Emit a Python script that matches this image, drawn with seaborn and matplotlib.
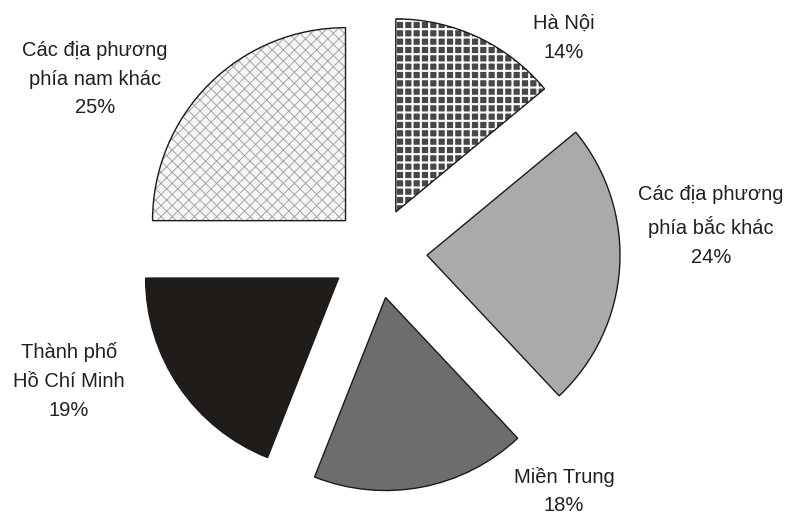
import matplotlib
matplotlib.use("Agg")
import matplotlib.pyplot as plt
import seaborn as sns

# Population share by region
regions = [
    "Hà Nội",
    "Các địa phương\nphía bắc khác",
    "Miền Trung",
    "Thành phố\nHồ Chí Minh",
    "Các địa phương\nphía nam khác",
]
shares = [14, 24, 18, 19, 25]

# Styling per slice
explode = [0.23, 0.26, 0.24, 0.24, 0.23]
fills = ["#474747", "#aaaaaa", "#6e6d6b", "#201c1a", "#f6f6f6"]
hatches = ["++", None, None, None, "xxx"]
hatch_colors = ["white", None, None, None, "#a6a6a6"]
hatch_widths = [1.5, None, None, None, 0.7]
label_xy = [(0.969, 1.110), (1.731, 0.135), (0.969, -1.238),
            (-1.596, -0.668), (-1.461, 0.896)]

sns.set_theme(style="white")
plt.rcParams["font.family"] = ["Liberation Sans", "DejaVu Sans"]

fig = plt.figure(figsize=(7.88, 5.17), dpi=100)
ax = fig.add_axes([0, 0, 1, 1])

wedges, _ = ax.pie(shares, explode=explode, startangle=90, counterclock=False,
                   radius=1, colors=fills, wedgeprops=dict(linewidth=0))
for w, h, hc, hw in zip(wedges, hatches, hatch_colors, hatch_widths):
    if h:
        w.set_hatch(h)
        w.set_edgecolor(hc)
        w.set_linewidth(0)
        if hasattr(w, "set_hatch_linewidth"):
            w.set_hatch_linewidth(hw)

# thin dark outlines on top of the fills
ax.pie(shares, explode=explode, startangle=90, counterclock=False, radius=1,
       wedgeprops=dict(fill=False, edgecolor="#1a1a1a", linewidth=1.0))

for name, v, (x, y) in zip(regions, shares, label_xy):
    ax.text(x, y, f"{name}\n{v}%", ha="center", va="center", fontsize=14.5,
            linespacing=1.65, color="#231f20")

ax.set_aspect("auto")
ax.set_xlim(-1.953, 2.130)
ax.set_ylim(-1.373, 1.306)
ax.axis("off")

fig.savefig("out.png", dpi=100, facecolor="white")
